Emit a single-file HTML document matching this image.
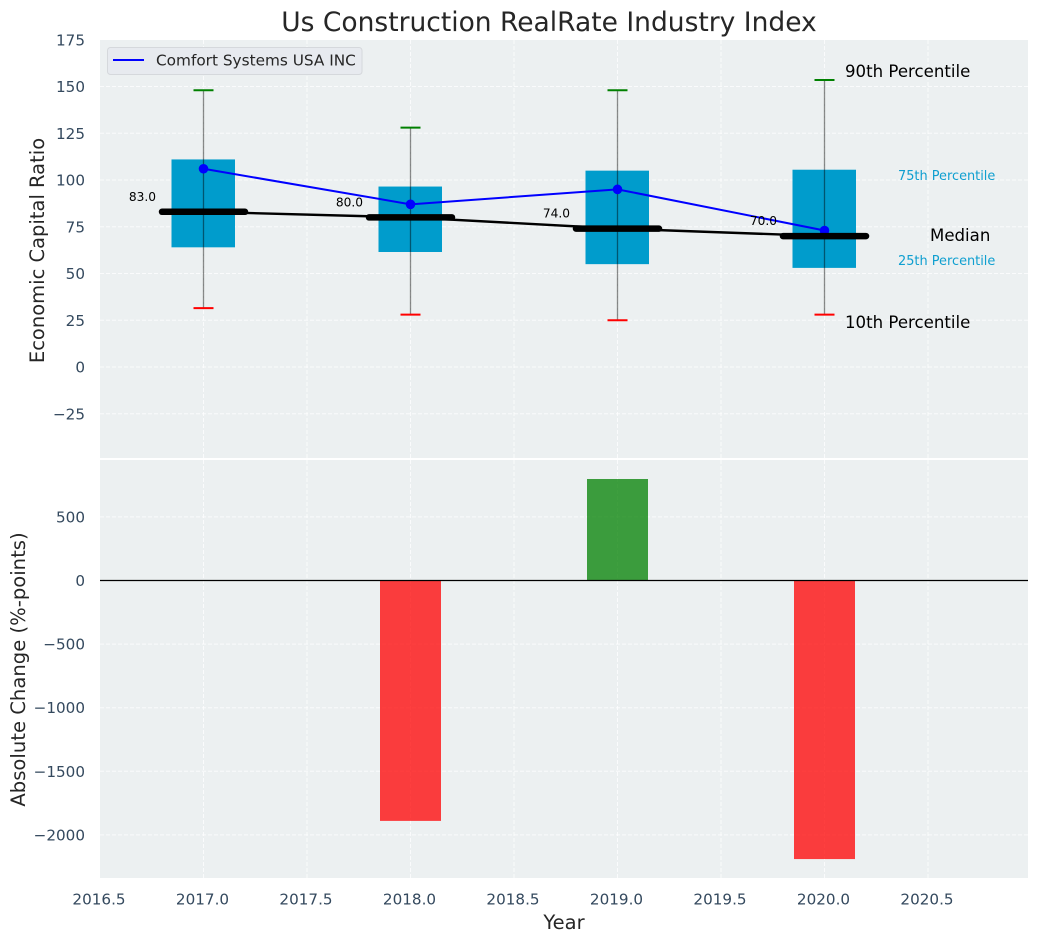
<!DOCTYPE html>
<html>
<head>
<meta charset="utf-8">
<title>Us Construction RealRate Industry Index</title>
<style>
html,body{margin:0;padding:0;background:#fff;}
svg{display:block;font-family:"DejaVu Sans","Liberation Sans",sans-serif;}
</style>
</head>
<body>
<svg id="chart" width="1039" height="942" viewBox="0 0 1039 942" xmlns="http://www.w3.org/2000/svg">
  <text x="549" y="31" text-anchor="middle" font-size="26.5" fill="#262626">Us Construction RealRate Industry Index</text>
  <rect x="100" y="40" width="928" height="418" fill="#ecf0f1"/>
  <rect x="100" y="460" width="928" height="418" fill="#ecf0f1"/>
  <g id="grid"></g>
  <g id="bars"></g>
  <g id="boxes"></g>
  <g id="lines"></g>
  <g id="ticks"></g>
  <text transform="translate(44,250.5) rotate(-90)" text-anchor="middle" font-size="19.5" fill="#262626">Economic Capital Ratio</text>
  <text transform="translate(25,669.5) rotate(-90)" text-anchor="middle" font-size="19.6" fill="#262626">Absolute Change (%-points)</text>
  <text x="564" y="929" text-anchor="middle" font-size="19.5" fill="#262626">Year</text>
  <g>
    <rect x="107.5" y="47.5" width="254.5" height="27" rx="3" fill="#e7eaef" stroke="#d5d8dc" stroke-width="1"/>
    <line x1="113" y1="60" x2="144" y2="60" stroke="#0000ff" stroke-width="2"/>
    <text x="156" y="65.5" font-size="15.3" fill="#262626">Comfort Systems USA INC</text>
  </g>
  <text x="845" y="77" font-size="16.6" fill="#000">90th Percentile</text>
  <text x="898" y="180" font-size="12.9" fill="#0f9fd0">75th Percentile</text>
  <text x="930" y="241" font-size="16.6" fill="#000">Median</text>
  <text x="898" y="265" font-size="12.9" fill="#0f9fd0">25th Percentile</text>
  <text x="845" y="328" font-size="16.6" fill="#000">10th Percentile</text>
</svg>
<script>
var years = [2017, 2018, 2019, 2020];
var p10 = [31.5, 28, 25, 28];
var p25 = [64, 61.5, 55, 53];
var medians = [83, 80, 74, 70];
var p75 = [111, 96.5, 105, 105.5];
var p90 = [148, 128, 148, 153.5];
var company = [106, 87, 95, 73];
var changes = [0, -1890, 798, -2190];
var xTicks = [2016.5, 2017, 2017.5, 2018, 2018.5, 2019, 2019.5, 2020, 2020.5];
var topTicks = [175, 150, 125, 100, 75, 50, 25, 0, -25];
var bottomTicks = [500, 0, -500, -1000, -1500, -2000];

var NS = 'http://www.w3.org/2000/svg';
var TICK_SIZE = 15.2;
var TICK_COLOR = '#34495e';
var GRID_OPACITY = 0.75;
function xScale(v) { return 100 + (v - 2016.5) * 207; }
function yTop(v) { return 367 - v * 1.87; }
function yBottom(v) { return 580.5 - v * 0.1272; }
function make(parent, tag, attrs, text) {
  var el = document.createElementNS(NS, tag);
  for (var k in attrs) el.setAttribute(k, attrs[k]);
  if (text !== undefined) el.textContent = text;
  parent.appendChild(el);
  return el;
}
function fmt(v) { return (v < 0 ? '\u2212' : '') + Math.abs(v); }

var grid = document.getElementById('grid');
var bars = document.getElementById('bars');
var boxes = document.getElementById('boxes');
var lines = document.getElementById('lines');
var ticks = document.getElementById('ticks');
var el;

xTicks.forEach(function (t) {
  var x = xScale(t);
  if (t > 2016.5) {
    el = make(grid, 'line', {x1: x, y1: 40, x2: x, y2: 458, stroke: '#fff', 'stroke-opacity': GRID_OPACITY, 'stroke-width': 1, 'stroke-dasharray': '4 2'});
    
    
    el = make(grid, 'line', {x1: x, y1: 460, x2: x, y2: 878, stroke: '#fff', 'stroke-opacity': GRID_OPACITY, 'stroke-width': 1, 'stroke-dasharray': '4 2'});
    
    
  }
  el = make(ticks, 'text', {x: x - 1, y: 904.5, 'text-anchor': 'middle', 'font-size': TICK_SIZE, fill: TICK_COLOR}, t.toFixed(1));
  
  
});

topTicks.forEach(function (t) {
  var y = yTop(t);
  if (t < 175) {
    el = make(grid, 'line', {x1: 100, y1: y, x2: 1028, y2: y, stroke: '#fff', 'stroke-opacity': GRID_OPACITY, 'stroke-width': 1, 'stroke-dasharray': '4 2'});
    
    
  }
  el = make(ticks, 'text', {x: 85, y: y + 5.5, 'text-anchor': 'end', 'font-size': TICK_SIZE, fill: TICK_COLOR}, fmt(t));
  
  
});

bottomTicks.forEach(function (t) {
  var y = yBottom(t);
  el = make(grid, 'line', {x1: 100, y1: y, x2: 1028, y2: y, stroke: '#fff', 'stroke-opacity': GRID_OPACITY, 'stroke-width': 1, 'stroke-dasharray': '4 2'});
  
  
  el = make(ticks, 'text', {x: 85, y: y + 5.5, 'text-anchor': 'end', 'font-size': TICK_SIZE, fill: TICK_COLOR}, fmt(t));
  
  
});

years.forEach(function (yr, i) {
  var v = changes[i];
  if (v === 0) return;
  var y0 = yBottom(0), y1 = yBottom(v);
  el = make(bars, 'rect', {
    x: xScale(yr) - 30.5, width: 61,
    y: Math.min(y0, y1), height: Math.abs(y1 - y0),
    fill: v > 0 ? '#008000' : '#ff0000', 'fill-opacity': 0.75
  });
  
  
});

el = make(bars, 'line', {x1: 100, y1: yBottom(0), x2: 1028, y2: yBottom(0), stroke: '#000', 'stroke-width': 1.3});



years.forEach(function (yr, i) {
  var x = xScale(yr);
  el = make(boxes, 'rect', {x: x - 32, width: 63.5, y: yTop(p75[i]), height: yTop(p25[i]) - yTop(p75[i]), fill: '#009ccc'});
  
  
  el = make(boxes, 'line', {x1: x, y1: yTop(p90[i]), x2: x, y2: yTop(p10[i]), stroke: '#000', 'stroke-opacity': 0.45, 'stroke-width': 1.3});
  
  
  el = make(boxes, 'line', {x1: x - 10, y1: yTop(p90[i]), x2: x + 10, y2: yTop(p90[i]), stroke: '#008000', 'stroke-width': 2});
  
  
  el = make(boxes, 'line', {x1: x - 10, y1: yTop(p10[i]), x2: x + 10, y2: yTop(p10[i]), stroke: '#ff0000', 'stroke-width': 2});
  
  
});

var medianPts = years.map(function (yr, i) { return xScale(yr) + ',' + yTop(medians[i]); }).join(' ');
el = make(lines, 'polyline', {points: medianPts, fill: 'none', stroke: '#000', 'stroke-width': 2.4});



var companyPts = years.map(function (yr, i) { return xScale(yr) + ',' + yTop(company[i]); }).join(' ');
el = make(lines, 'polyline', {points: companyPts, fill: 'none', stroke: '#0000ff', 'stroke-width': 2});



years.forEach(function (yr, i) {
  var x = xScale(yr);
  el = make(lines, 'circle', {cx: x, cy: yTop(company[i]), r: 4.8, fill: '#0000ff'});
  
  
  el = make(lines, 'line', {x1: x - 41.5, y1: yTop(medians[i]), x2: x + 41.5, y2: yTop(medians[i]), stroke: '#000', 'stroke-width': 6.5, 'stroke-linecap': 'round'});
  
  
  el = make(lines, 'text', {x: x - 47.5, y: yTop(medians[i]) - 11, 'text-anchor': 'end', 'font-size': 12.2, fill: '#000'}, medians[i].toFixed(1));
  
  
});
</script>
</body>
</html>
